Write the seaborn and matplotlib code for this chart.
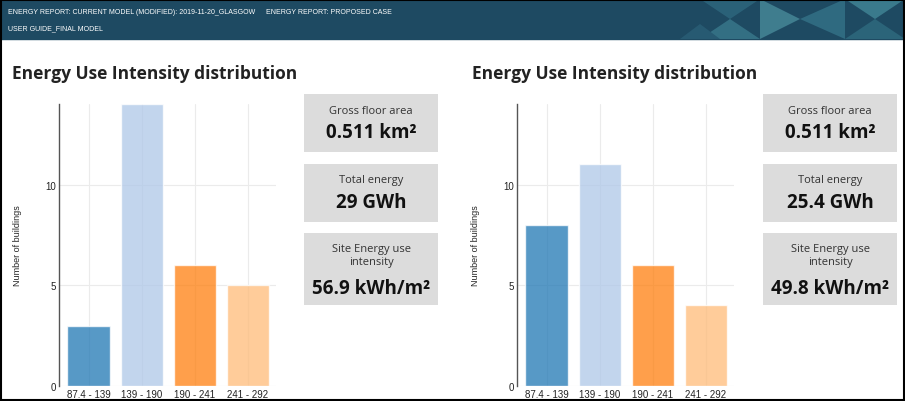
import numpy as np
import pandas as pd
import seaborn as sns
import matplotlib.pyplot as plt
from matplotlib.patches import Rectangle, Polygon

bins = ['87.4 - 139', '139 - 190', '190 - 241', '241 - 292']
current_counts = [3, 14, 6, 5]
proposed_counts = [8, 11, 6, 4]
bar_colors = ['#1f77b4', '#aec7e8', '#ff7f0e', '#ffbb78']

header_left = ['ENERGY REPORT: CURRENT MODEL (MODIFIED): 2019-11-20_GLASGOW', 'USER GUIDE_FINAL MODEL']
header_right = 'ENERGY REPORT: PROPOSED CASE'
chart_title = 'Energy Use Intensity distribution'
card_labels = ['Gross floor area', 'Total energy', 'Site Energy use\nintensity']
current_cards = ['0.511 km²', '29 GWh', '56.9 kWh/m²']
proposed_cards = ['0.511 km²', '25.4 GWh', '49.8 kWh/m²']

sns.set_style('white')
plt.rcParams['font.family'] = ['Open Sans', 'DejaVu Sans']
head_font = ['Liberation Sans', 'DejaVu Sans']

W, H = 905, 402
fig = plt.figure(figsize=(W / 100, H / 100), dpi=100)

# background layer in pixel coords
bg = fig.add_axes([0, 0, 1, 1])
bg.set_xlim(0, W)
bg.set_ylim(H, 0)
bg.axis('off')
bg.add_patch(Rectangle((0, 0), W, 40, color='#1e4a62', zorder=0))
# decorative triangles on the header
tri = [
    [(700, 0), (760, 0), (730, 20)], [(730, 20), (700, 40), (760, 40)],
    [(760, 0), (800, 20), (760, 40)], [(800, 20), (845, 0), (845, 40)],
    [(845, 0), (905, 0), (875, 20)], [(845, 40), (875, 20), (905, 40)],
    [(680, 40), (700, 25), (720, 40)],
]
shades = ['#2a6178', '#336f83', '#3f7d8e', '#2f6a80', '#3a7a8c', '#2b6479', '#275a72']
for p, c in zip(tri, shades):
    bg.add_patch(Polygon(p, closed=True, color=c, zorder=1, lw=0))

h1 = bg.text(8, 13, header_left[0], color='white', fontsize=8, family=head_font, va='center', ha='left')
h2 = bg.text(8, 29, header_left[1], color='white', fontsize=8, family=head_font, va='center', ha='left')
h3 = bg.text(266, 13, header_right, color='white', fontsize=8, family=head_font, va='center', ha='left')
# shrink header font so the first line fits in the space the reference gives it
r = fig.canvas.get_renderer()
w = h1.get_window_extent(r).width
size = min(8.6, 8 * 246 / w)
for t in (h1, h2, h3):
    t.set_fontsize(size)

bg.text(12, 74, chart_title, fontsize=12.5, fontweight='bold', va='center', ha='left', color='#222222')
bg.text(472, 74, chart_title, fontsize=12.5, fontweight='bold', va='center', ha='left', color='#222222')

# metric cards
card_y = [(95, 153), (165, 223), (234, 306)]
for x0, vals in [(304, current_cards), (763, proposed_cards)]:
    for (y0, y1), lab, val in zip(card_y, card_labels, vals):
        bg.add_patch(Rectangle((x0, y0), 134, y1 - y0, color='#dcdcdc', zorder=1, lw=0))
        cx = x0 + 67
        if '\n' in lab:
            bg.text(cx, y0 + 22, lab, fontsize=8, ha='center', va='center', color='#333333', linespacing=1.2)
            bg.text(cx, y0 + 55, val, fontsize=13.5, fontweight='bold', ha='center', va='center', color='#111111')
        else:
            bg.text(cx, y0 + 16, lab, fontsize=8, ha='center', va='center', color='#333333')
            bg.text(cx, y0 + 38, val, fontsize=13.5, fontweight='bold', ha='center', va='center', color='#111111')

bg.add_patch(Rectangle((0.5, 0.5), W - 1.5, H - 1.5, fill=False, ec='black', lw=1.5, zorder=5))


def bar_chart(left_px, counts):
    ax = fig.add_axes([left_px / W, 15 / H, 217 / W, 282 / H])
    df = pd.DataFrame({'bin': bins, 'count': counts})
    sns.barplot(data=df, x='bin', y='count', hue='bin', palette=bar_colors, saturation=1,
                alpha=0.75, width=0.8, legend=False, ax=ax, zorder=2)
    ax.set_xlim(-0.56, 3.53)
    ax.set_ylim(0, 14)
    ax.set_yticks([0, 5, 10])
    ax.grid(True, color='#ebebeb', lw=0.8, zorder=0)
    ax.set_axisbelow(True)
    for s in ['top', 'right', 'bottom']:
        ax.spines[s].set_visible(False)
    ax.spines['left'].set_color('#555555')
    ax.spines['left'].set_linewidth(1)
    ax.tick_params(axis='both', length=0, labelsize=7, pad=2, labelcolor='#222222')
    for t in ax.get_xticklabels() + ax.get_yticklabels():
        t.set_family(['Liberation Sans', 'DejaVu Sans'])
    ax.set_xlabel('')
    ax.set_ylabel('Number of buildings', fontsize=6.5, family=['Liberation Sans', 'DejaVu Sans'], labelpad=17)
    ax.set_facecolor('none')
    return ax


bar_chart(59, current_counts)
bar_chart(517, proposed_counts)

fig.savefig('out.png', dpi=100)
